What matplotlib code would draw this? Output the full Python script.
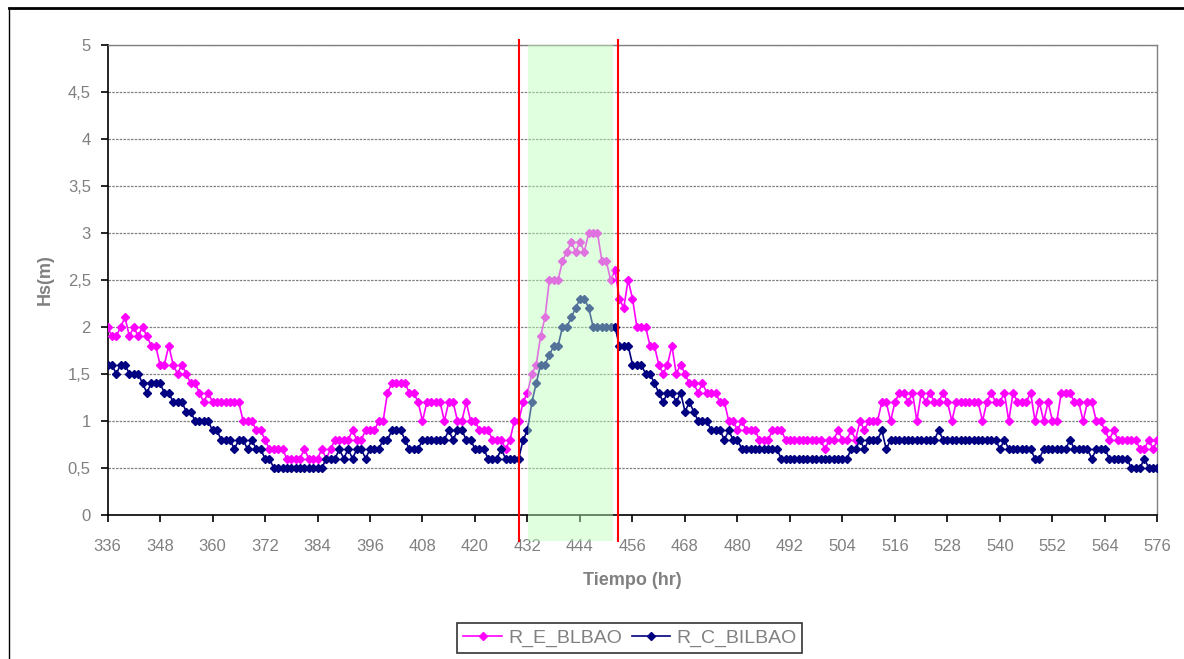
import matplotlib
matplotlib.use("Agg")
import matplotlib.pyplot as plt
import matplotlib.transforms as mtransforms
from matplotlib.lines import Line2D
from matplotlib.patches import Rectangle
from matplotlib.ticker import FuncFormatter, MultipleLocator

plt.rcParams['font.family'] = ['Liberation Sans', 'DejaVu Sans']

# hourly significant wave height, hours 336..576
hours = list(range(336, 577))

r_e_blbao = [
    2.0, 1.9, 1.9, 2.0, 2.1, 1.9, 2.0, 1.9, 2.0, 1.9,
    1.8, 1.8, 1.6, 1.6, 1.8, 1.6, 1.5, 1.6, 1.5, 1.4,
    1.4, 1.3, 1.2, 1.3, 1.2, 1.2, 1.2, 1.2, 1.2, 1.2,
    1.2, 1.0, 1.0, 1.0, 0.9, 0.9, 0.8, 0.7, 0.7, 0.7,
    0.7, 0.6, 0.6, 0.6, 0.6, 0.7, 0.6, 0.6, 0.6, 0.7,
    0.6, 0.7, 0.8, 0.8, 0.8, 0.8, 0.9, 0.8, 0.8, 0.9,
    0.9, 0.9, 1.0, 1.0, 1.3, 1.4, 1.4, 1.4, 1.4, 1.3,
    1.3, 1.2, 1.0, 1.2, 1.2, 1.2, 1.2, 1.0, 1.2, 1.2,
    1.0, 1.0, 1.2, 1.0, 1.0, 0.9, 0.9, 0.9, 0.8, 0.8,
    0.8, 0.7, 0.8, 1.0, 1.0, 1.2, 1.3, 1.5, 1.6, 1.9,
    2.1, 2.5, 2.5, 2.5, 2.7, 2.8, 2.9, 2.8, 2.9, 2.8,
    3.0, 3.0, 3.0, 2.7, 2.7, 2.5, 2.6, 2.3, 2.2, 2.5,
    2.3, 2.0, 2.0, 2.0, 1.8, 1.8, 1.6, 1.5, 1.6, 1.8,
    1.5, 1.6, 1.5, 1.4, 1.4, 1.3, 1.4, 1.3, 1.3, 1.3,
    1.2, 1.2, 1.0, 1.0, 0.9, 1.0, 0.9, 0.9, 0.9, 0.8,
    0.8, 0.8, 0.9, 0.9, 0.9, 0.8, 0.8, 0.8, 0.8, 0.8,
    0.8, 0.8, 0.8, 0.8, 0.7, 0.8, 0.8, 0.9, 0.8, 0.8,
    0.9, 0.8, 1.0, 0.9, 1.0, 1.0, 1.0, 1.2, 1.2, 1.0,
    1.2, 1.3, 1.3, 1.2, 1.3, 1.0, 1.3, 1.2, 1.3, 1.2,
    1.2, 1.3, 1.2, 1.0, 1.2, 1.2, 1.2, 1.2, 1.2, 1.2,
    1.0, 1.2, 1.3, 1.2, 1.2, 1.3, 1.0, 1.3, 1.2, 1.2,
    1.2, 1.3, 1.0, 1.2, 1.0, 1.2, 1.0, 1.0, 1.3, 1.3,
    1.3, 1.2, 1.2, 1.0, 1.2, 1.2, 1.0, 1.0, 0.9, 0.8,
    0.9, 0.8, 0.8, 0.8, 0.8, 0.8, 0.7, 0.7, 0.8, 0.7, 0.8,
]

r_c_bilbao = [
    1.6, 1.6, 1.5, 1.6, 1.6, 1.5, 1.5, 1.5, 1.4, 1.3,
    1.4, 1.4, 1.4, 1.3, 1.3, 1.2, 1.2, 1.2, 1.1, 1.1,
    1.0, 1.0, 1.0, 1.0, 0.9, 0.9, 0.8, 0.8, 0.8, 0.7,
    0.8, 0.8, 0.7, 0.8, 0.7, 0.7, 0.6, 0.6, 0.5, 0.5,
    0.5, 0.5, 0.5, 0.5, 0.5, 0.5, 0.5, 0.5, 0.5, 0.5,
    0.6, 0.6, 0.6, 0.7, 0.6, 0.7, 0.6, 0.7, 0.7, 0.6,
    0.7, 0.7, 0.7, 0.8, 0.8, 0.9, 0.9, 0.9, 0.8, 0.7,
    0.7, 0.7, 0.8, 0.8, 0.8, 0.8, 0.8, 0.8, 0.9, 0.8,
    0.9, 0.9, 0.8, 0.8, 0.7, 0.7, 0.7, 0.6, 0.6, 0.6,
    0.7, 0.6, 0.6, 0.6, 0.6, 0.8, 0.9, 1.2, 1.4, 1.6,
    1.6, 1.7, 1.8, 1.8, 2.0, 2.0, 2.1, 2.2, 2.3, 2.3,
    2.2, 2.0, 2.0, 2.0, 2.0, 2.0, 2.0, 1.8, 1.8, 1.8,
    1.6, 1.6, 1.6, 1.5, 1.5, 1.4, 1.3, 1.2, 1.3, 1.3,
    1.2, 1.3, 1.1, 1.2, 1.1, 1.0, 1.0, 1.0, 0.9, 0.9,
    0.9, 0.8, 0.9, 0.8, 0.8, 0.7, 0.7, 0.7, 0.7, 0.7,
    0.7, 0.7, 0.7, 0.7, 0.6, 0.6, 0.6, 0.6, 0.6, 0.6,
    0.6, 0.6, 0.6, 0.6, 0.6, 0.6, 0.6, 0.6, 0.6, 0.6,
    0.7, 0.7, 0.8, 0.7, 0.8, 0.8, 0.8, 0.9, 0.7, 0.8,
    0.8, 0.8, 0.8, 0.8, 0.8, 0.8, 0.8, 0.8, 0.8, 0.8,
    0.9, 0.8, 0.8, 0.8, 0.8, 0.8, 0.8, 0.8, 0.8, 0.8,
    0.8, 0.8, 0.8, 0.8, 0.7, 0.8, 0.7, 0.7, 0.7, 0.7,
    0.7, 0.7, 0.6, 0.6, 0.7, 0.7, 0.7, 0.7, 0.7, 0.7,
    0.8, 0.7, 0.7, 0.7, 0.7, 0.6, 0.7, 0.7, 0.7, 0.6,
    0.6, 0.6, 0.6, 0.6, 0.5, 0.5, 0.5, 0.6, 0.5, 0.5, 0.5,
]

# storm window (red markers) and highlighted peak (green band), in hours
storm_limits = [430.0, 452.75]
peak_band = [432.2, 451.6]

grey = '#808080'

fig = plt.figure(figsize=(11.84, 6.59), dpi=100)
ax = fig.add_axes([0.0908, 0.2185, 0.8868, 0.7137])

ax.plot(hours, r_e_blbao, color='#ff00ff', lw=1.2, marker='D', ms=3.8,
        mec='#ff00ff', mfc='#ff00ff', label='R_E_BLBAO', zorder=3)
ax.plot(hours, r_c_bilbao, color='#000080', lw=1.2, marker='D', ms=3.8,
        mec='#000080', mfc='#000080', label='R_C_BILBAO', zorder=4)

# vertical markers run a bit past the plot area, like in the original
trans = mtransforms.blended_transform_factory(ax.transData, ax.transAxes)
band = Rectangle((peak_band[0], -0.055), peak_band[1] - peak_band[0], 1.055,
                 transform=trans, facecolor='#b9ffb9', alpha=0.45,
                 edgecolor='none', clip_on=False, zorder=5)
ax.add_patch(band)
for x in storm_limits:
    ax.add_line(Line2D([x, x], [-0.055, 1.009], transform=trans, color='red',
                       lw=1.5, clip_on=False, zorder=6))

ax.set_xlim(336, 576)
ax.set_ylim(0, 5)
ax.xaxis.set_major_locator(MultipleLocator(12))
ax.yaxis.set_major_locator(MultipleLocator(0.5))
ax.yaxis.set_major_formatter(FuncFormatter(lambda v, p: f"{v:g}".replace('.', ',')))

ax.grid(axis='y', color=grey, linestyle=(0, (2, 1)), lw=0.9)
ax.set_axisbelow(True)

for side in ['left', 'bottom']:
    ax.spines[side].set_color('black')
    ax.spines[side].set_linewidth(1.2)
for side in ['right', 'top']:
    ax.spines[side].set_color(grey)
    ax.spines[side].set_linewidth(1.0)

ax.tick_params(axis='y', direction='out', length=5, width=1.2, color='black',
               labelcolor=grey, labelsize=12, pad=7)
ax.tick_params(axis='x', direction='out', length=5, width=1.2, color='black',
               labelcolor=grey, labelsize=12, pad=12)

ax.set_xlabel('Tiempo (hr)', color=grey, fontsize=13, fontweight='bold', labelpad=13)
ax.set_ylabel('Hs(m)', color=grey, fontsize=13, fontweight='bold', labelpad=10)

leg = fig.legend(loc='center', bbox_to_anchor=(0.532, 0.032), ncol=2,
                 fontsize=14, frameon=True, fancybox=False, handlelength=2.0,
                 columnspacing=0.5, handletextpad=0.3, borderpad=0.3,
                 borderaxespad=0.2)
leg.get_frame().set_edgecolor('black')
leg.get_frame().set_linewidth(1.2)
for t in leg.get_texts():
    t.set_color(grey)

# outer chart frame (top and left edges show in the crop)
fig.add_artist(Line2D([9 / 1184, 1], [1 - 8 / 659, 1 - 8 / 659],
                      transform=fig.transFigure, color='black', lw=2))
fig.add_artist(Line2D([9 / 1184, 9 / 1184], [0, 1 - 8 / 659],
                      transform=fig.transFigure, color='black', lw=1))

fig.savefig('out.png', dpi=100)
